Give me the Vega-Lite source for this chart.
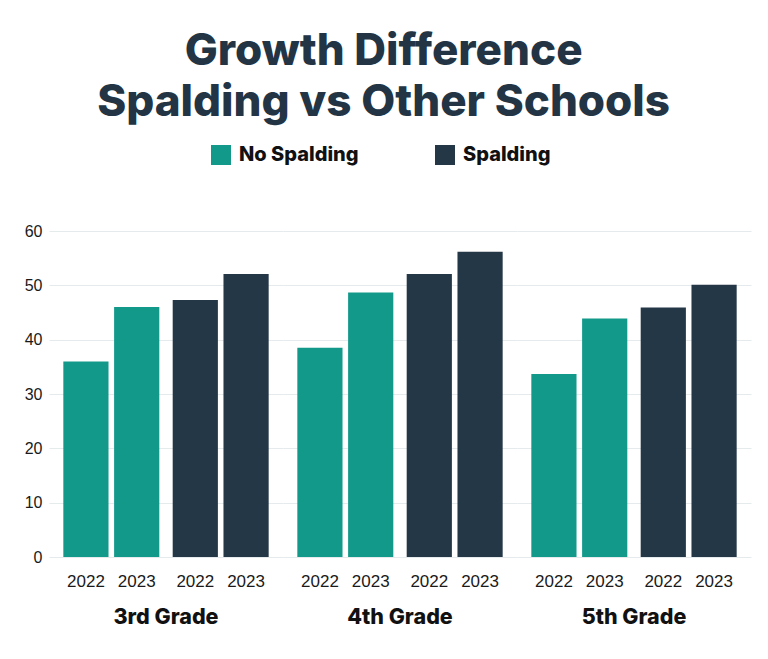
{
  "$schema": "https://vega.github.io/schema/vega-lite/v6.json",
  "padding": {"left": 24, "top": 30, "right": 5, "bottom": 5},
  "background": "white",
  "title": {
    "text": ["Growth Difference", "Spalding vs Other Schools"],
    "font": "Inter",
    "fontWeight": 800,
    "fontSize": 44,
    "color": "#233545",
    "anchor": "middle",
    "lineHeight": 51,
    "offset": 20,
    "dx": -4
  },
  "data": {
    "values": [
      {"grade": "3rd Grade", "group": "No Spalding", "year": "2022", "value": 36},
      {"grade": "3rd Grade", "group": "No Spalding", "year": "2023", "value": 46},
      {"grade": "3rd Grade", "group": "Spalding", "year": "2022", "value": 47.3},
      {"grade": "3rd Grade", "group": "Spalding", "year": "2023", "value": 52.1},
      {"grade": "4th Grade", "group": "No Spalding", "year": "2022", "value": 38.5},
      {"grade": "4th Grade", "group": "No Spalding", "year": "2023", "value": 48.7},
      {"grade": "4th Grade", "group": "Spalding", "year": "2022", "value": 52.1},
      {"grade": "4th Grade", "group": "Spalding", "year": "2023", "value": 56.2},
      {"grade": "5th Grade", "group": "No Spalding", "year": "2022", "value": 33.7},
      {"grade": "5th Grade", "group": "No Spalding", "year": "2023", "value": 43.9},
      {"grade": "5th Grade", "group": "Spalding", "year": "2022", "value": 45.9},
      {"grade": "5th Grade", "group": "Spalding", "year": "2023", "value": 50.1}
    ]
  },
  "facet": {
    "column": {
      "field": "grade",
      "type": "nominal",
      "sort": ["3rd Grade", "4th Grade", "5th Grade"],
      "header": {
        "title": null,
        "labelOrient": "bottom",
        "labelFont": "Inter",
        "labelFontWeight": 800,
        "labelFontSize": 21.5,
        "labelColor": "#111111",
        "labelPadding": 17
      }
    }
  },
  "spacing": 0,
  "spec": {
    "width": 234,
    "height": 326,
    "layer": [
      {
        "mark": {"type": "bar"},
        "encoding": {
          "x": {
            "field": "group",
            "type": "nominal",
            "sort": ["No Spalding", "Spalding"],
            "axis": null,
            "scale": {"paddingInner": 0.1225, "paddingOuter": 0.131}
          },
          "xOffset": {
            "field": "year",
            "type": "nominal",
            "scale": {"paddingInner": 0.11, "paddingOuter": 0}
          },
          "y": {
            "field": "value",
            "type": "quantitative",
            "scale": {"domain": [0, 60]},
            "axis": {
              "title": null,
              "values": [0, 10, 20, 30, 40, 50, 60],
              "domain": false,
              "ticks": false,
              "labelFont": "Liberation Sans",
              "labelFontSize": 16,
              "labelColor": "#1a1a1a",
              "labelPadding": 7,
              "gridColor": "#e5eaec",
              "gridWidth": 1.2
            }
          },
          "color": {
            "field": "group",
            "type": "nominal",
            "scale": {"domain": ["No Spalding", "Spalding"], "range": ["#13998a", "#243746"]},
            "legend": {
              "title": null,
              "orient": "none",
              "direction": "horizontal",
              "legendX": 162,
              "legendY": -86,
              "symbolType": "square",
              "symbolSize": 400,
              "symbolStrokeWidth": 0,
              "labelFont": "Inter",
              "labelFontWeight": 800,
              "labelFontSize": 20,
              "labelColor": "#111111",
              "labelOffset": 8,
              "columnPadding": 76
            }
          }
        }
      },
      {
        "mark": {"type": "text", "baseline": "middle", "dy": 25, "font": "Liberation Sans", "fontSize": 17, "color": "#1a1a1a"},
        "encoding": {
          "x": {"field": "group", "type": "nominal", "sort": ["No Spalding", "Spalding"]},
          "xOffset": {"field": "year", "type": "nominal"},
          "y": {"datum": 0},
          "text": {"field": "year"}
        }
      }
    ]
  },
  "config": {
    "view": {"stroke": null}
  }
}
